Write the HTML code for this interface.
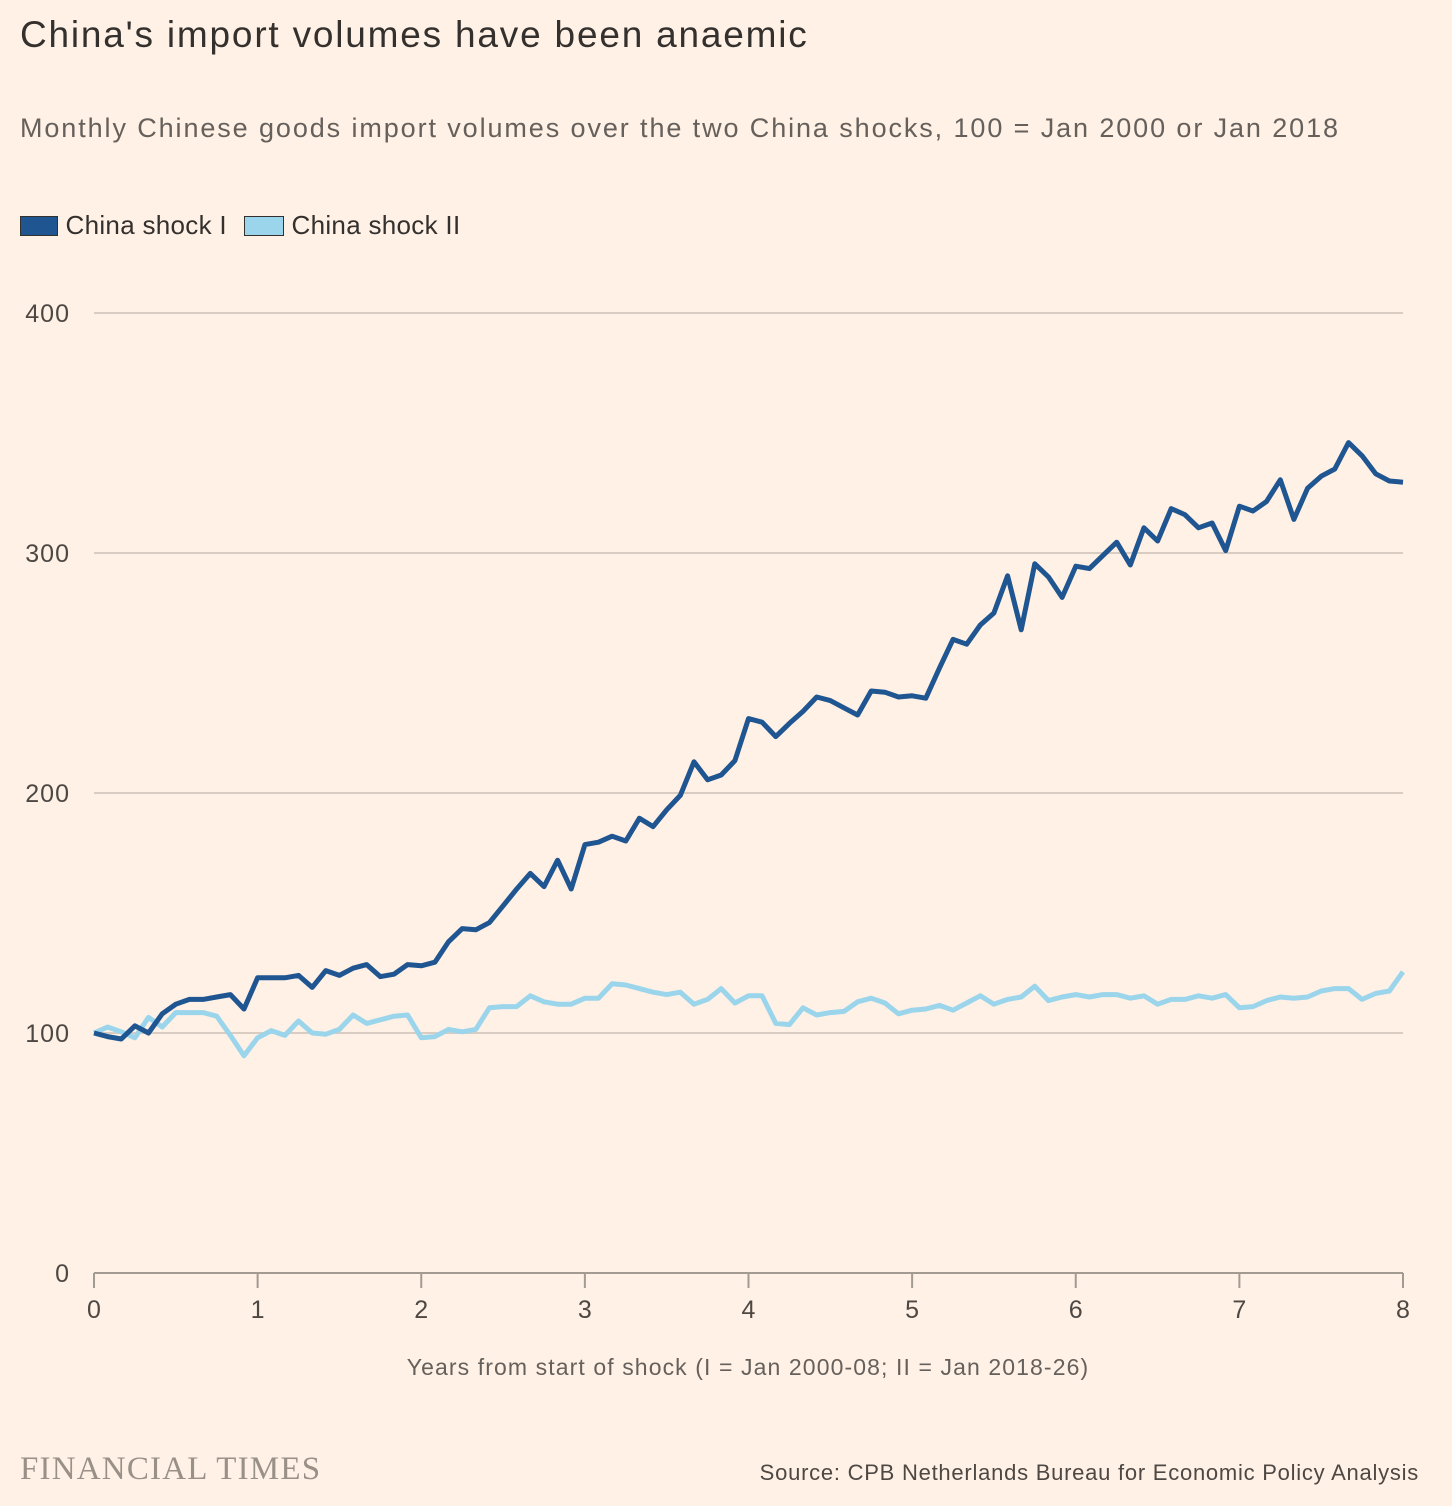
<!DOCTYPE html>
<html><head><meta charset="utf-8">
<style>
html,body{margin:0;padding:0;background:#fff1e5;}
body{width:1452px;height:1506px;position:relative;overflow:hidden;font-family:"Liberation Sans",sans-serif;color:#33302e;}
.t{position:absolute;white-space:nowrap;}
</style></head><body>
<div class="t" style="left:20px;top:14px;font-size:37px;letter-spacing:1.8px;color:#33302e;">China's import volumes have been anaemic</div>
<div class="t" style="left:20px;top:113px;font-size:27px;letter-spacing:1.9px;color:#66605c;">Monthly Chinese goods import volumes over the two China shocks, 100 = Jan 2000 or Jan 2018</div>
<div class="t" style="left:20px;top:210px;font-size:26px;letter-spacing:0.3px;">
<span style="display:inline-block;width:38px;height:20px;background:#1f5591;border:1px solid #33302e;box-sizing:border-box;vertical-align:-2px;"></span> China shock I</div>
<div class="t" style="left:244px;top:210px;font-size:26px;letter-spacing:0.3px;">
<span style="display:inline-block;width:40px;height:20px;background:#9ad5ec;border:1px solid #33302e;box-sizing:border-box;vertical-align:-2px;"></span> China shock II</div>
<svg id="chart" width="1452" height="1506" style="position:absolute;left:0;top:0;"></svg>
<div class="t" style="left:748px;top:1354px;transform:translateX(-50%);font-size:23px;letter-spacing:1.1px;color:#66605c;">Years from start of shock (I = Jan 2000-08; II = Jan 2018-26)</div>
<div class="t" style="left:20px;top:1451px;font-family:'Liberation Serif',serif;font-size:33px;color:#999088;letter-spacing:1.2px;">FINANCIAL TIMES</div>
<div class="t" style="right:33px;top:1460px;font-size:22px;letter-spacing:0.75px;color:#4e4844;">Source: CPB Netherlands Bureau for Economic Policy Analysis</div>
<script>
const shock1=[100,98.5,97.5,103,100,108,112,114,114,115,116,110,123,123,123,124,119,126,124,127,128.5,123.5,124.5,128.5,128,129.5,138,143.5,143,146,153,160,166.5,161,172,160,178.5,179.5,182,180,189.5,186,193,199,213,205.5,207.5,213.5,231,229.5,223.5,229,234,240,238.5,235.5,232.5,242.5,242,240,240.5,239.5,252,264,262,270,275,290.5,268,295.5,290,281.5,294.5,293.5,299,304.5,295,310.5,305,318.5,316,310.5,312.5,301,319.5,317.5,321.5,330.5,314,327,332,335,346,340.5,333,330,329.5];
const shock2=[100,102.5,100.5,98,106.5,102.5,108.5,108.5,108.5,107,99,90.5,98,101,99,105,100,99.5,101.5,107.5,104,105.5,107,107.5,98,98.5,101.5,100.5,101.5,110.5,111,111,115.5,113,112,112,114.5,114.5,120.5,120,118.5,117,116,117,112,114,118.5,112.5,115.5,115.5,104,103.5,110.5,107.5,108.5,109,113,114.5,112.5,108,109.5,110,111.5,109.5,112.5,115.5,112,114,115,119.5,113.5,115,116,115,116,116,114.5,115.5,112,114,114,115.5,114.5,116,110.5,111,113.5,115,114.5,115,117.5,118.5,118.5,114,116.5,117.5,125.5];
const yTicks=[0,100,200,300,400];
const xTicks=[0,1,2,3,4,5,6,7,8];
const NS="http://www.w3.org/2000/svg";
const svg=document.getElementById('chart');
const x0=94,x1=1403,y0=1273,yTop=313;
function xs(v){return x0+(x1-x0)*v/8;}
function ys(v){return y0-(y0-yTop)*v/400;}
function mk(tag,attrs){const e=document.createElementNS(NS,tag);for(const k in attrs)e.setAttribute(k,attrs[k]);svg.appendChild(e);return e;}
yTicks.forEach(v=>{
  if(v>0){const g=mk('line',{x1:x0,x2:x1,y1:ys(v),y2:ys(v),stroke:'#d9cdc3','stroke-width':2});
  
  }
  const t=mk('text',{x:70,y:ys(v)+9,'text-anchor':'end','font-size':25,'letter-spacing':1,fill:'#4e4844','font-family':'Liberation Sans, sans-serif'});
  t.textContent=v;
  
  
});
const ax=mk('line',{x1:x0,x2:x1,y1:y0,y2:y0,stroke:'#a39a92','stroke-width':2});


xTicks.forEach(v=>{
  const tk=mk('line',{x1:xs(v),x2:xs(v),y1:y0,y2:y0+15,stroke:'#a39a92','stroke-width':2});
  
  
  const t=mk('text',{x:xs(v),y:y0+45,'text-anchor':'middle','font-size':25,fill:'#4e4844','font-family':'Liberation Sans, sans-serif'});
  t.textContent=v;
  
  
});
function line(data,color,name){
  const n=data.length-1;
  const d=data.map((v,i)=>(i?'L':'M')+xs(8*i/n).toFixed(1)+','+ys(v).toFixed(1)).join('');
  const p=mk('path',{d:d,fill:'none',stroke:color,'stroke-width':5,'stroke-linejoin':'round'});
  
  
}
line(shock2,'#9ad5ec','line-china-shock-2');
line(shock1,'#1f5591','line-china-shock-1');
</script>
</body></html>
